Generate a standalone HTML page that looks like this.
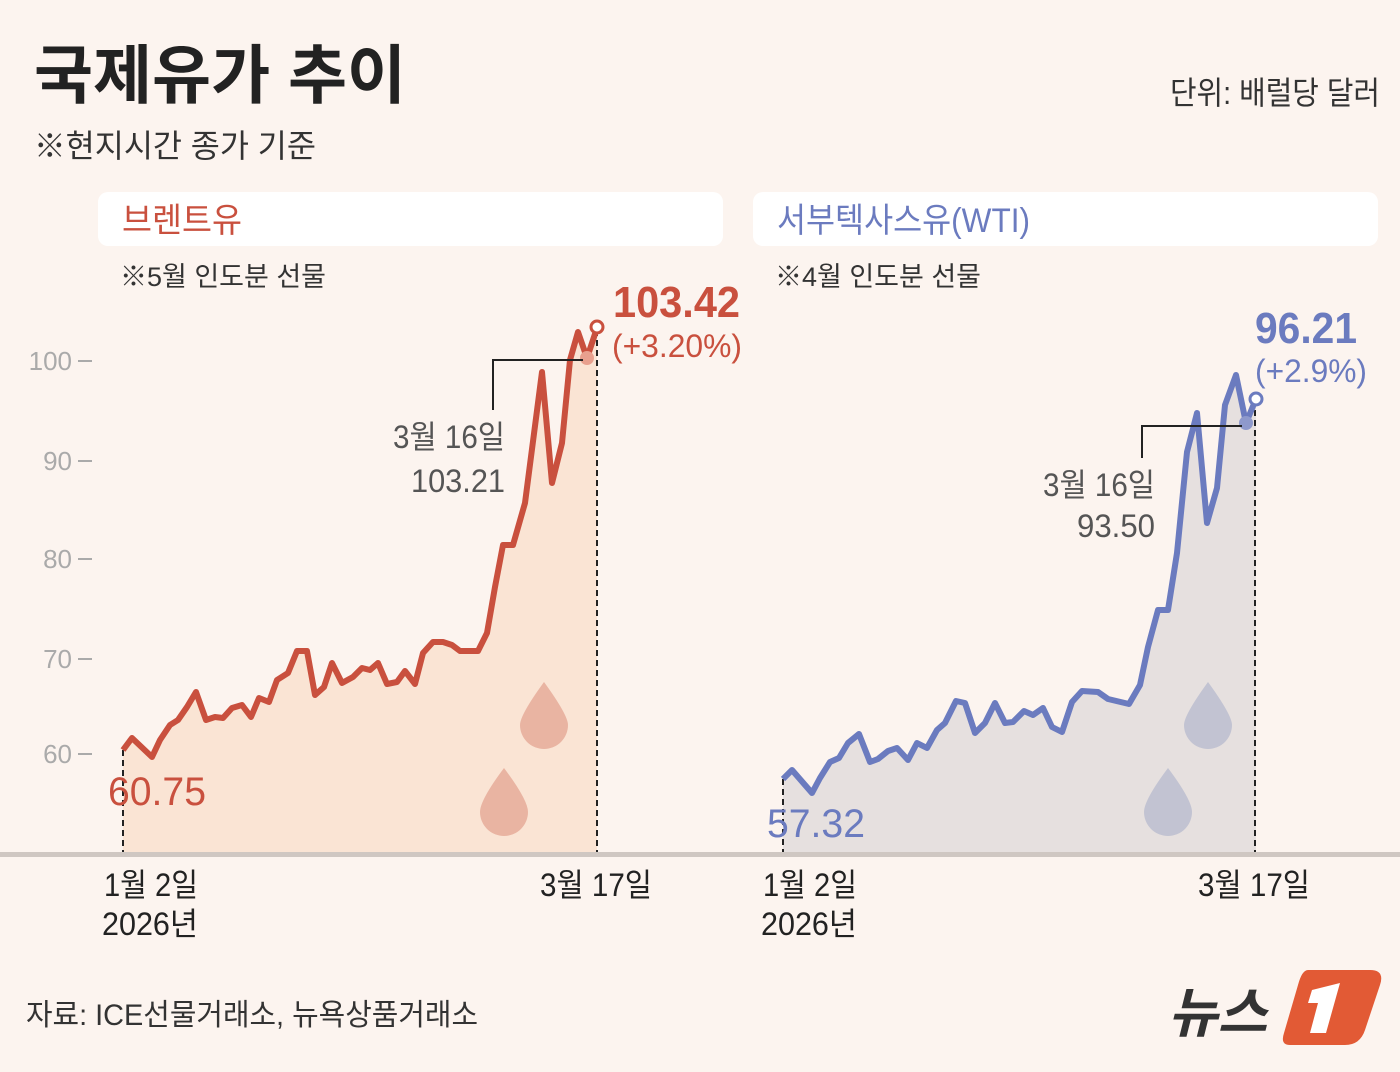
<!DOCTYPE html>
<html><head><meta charset="utf-8">
<style>
html,body{margin:0;padding:0;}
body{width:1400px;height:1072px;background:#fcf4ef;position:relative;overflow:hidden;font-family:"Liberation Sans","Noto Sans CJK KR",sans-serif;}
</style></head><body>
<svg width="1400" height="1072" style="position:absolute;left:0;top:0" font-family="Liberation Sans, Noto Sans CJK KR, sans-serif">
<rect x="98" y="192" width="625" height="54" rx="10" fill="#ffffff"/>
<rect x="753" y="192" width="625" height="54" rx="10" fill="#ffffff"/>
<text x="122" y="232" font-size="34" fill="#c9503e" textLength="120" lengthAdjust="spacingAndGlyphs">브렌트유</text>
<text x="777" y="232" font-size="34" fill="#6b7bbf" textLength="253" lengthAdjust="spacingAndGlyphs">서부텍사스유(WTI)</text>
<text x="120" y="286" font-size="27" fill="#333" textLength="206" lengthAdjust="spacingAndGlyphs">※5월 인도분 선물</text>
<text x="775" y="286" font-size="27" fill="#333" textLength="206" lengthAdjust="spacingAndGlyphs">※4월 인도분 선물</text>
<g font-size="26" fill="#aaa" text-anchor="end">
<text x="72" y="370">100</text><text x="72" y="470">90</text><text x="72" y="568">80</text><text x="72" y="668">70</text><text x="72" y="763">60</text>
</g>
<g stroke="#aaa" stroke-width="2"><line x1="78" y1="361" x2="92" y2="361"/><line x1="78" y1="461" x2="92" y2="461"/><line x1="78" y1="559" x2="92" y2="559"/><line x1="78" y1="659" x2="92" y2="659"/><line x1="78" y1="754" x2="92" y2="754"/></g>
<polygon fill="#fae4d4" points="123,855 123,750 132,738 152,757 160,740 170,725 178,720 187,707 196,692 206,720 215,717 223,718 232,708 242,705 251,717 259,698 269,702 277,680 288,673 297,651 307,651 315,695 324,687 332,663 342,683 353,677 362,668 370,670 378,663 387,684 397,682 405,671 415,684 423,653 433,642 443,642 452,645 460,651 478,651 487,633 495,587 503,545 513,545 525,503 542,372 552,483 562,443 570,360 578,332 587,358 597,328 597,855"/>
<polygon fill="#e6e0df" points="783,855 783,779 792,770 812,793 820,778 830,762 839,758 848,743 859,734 870,762 878,759 888,751 897,748 908,760 917,743 927,748 937,730 945,723 956,701 965,703 975,733 985,723 995,703 1005,723 1013,722 1024,711 1033,715 1043,708 1052,727 1062,732 1072,702 1082,691 1098,692 1108,699 1129,704 1140,685 1148,647 1158,610 1168,610 1177,553 1187,452 1197,413 1207,523 1217,488 1225,405 1236,375 1246,423 1256,399 1256,855"/>
<path d="M544 682 Q520 715 520 725 A24 24 0 0 0 568 725 Q568 715 544 682Z" fill="#e9b4a2"/>
<path d="M504 768 Q480 800 480 812 A24 24 0 0 0 528 812 Q528 800 504 768Z" fill="#e9b4a2"/>
<path d="M1208 682 Q1184 715 1184 725 A24 24 0 0 0 1232 725 Q1232 715 1208 682Z" fill="#c2c3d2"/>
<path d="M1168 768 Q1144 800 1144 812 A24 24 0 0 0 1192 812 Q1192 800 1168 768Z" fill="#c2c3d2"/>
<g stroke="#222" stroke-width="2" stroke-dasharray="6,4"><line x1="123" y1="750" x2="123" y2="855"/><line x1="597" y1="330" x2="597" y2="855"/><line x1="783" y1="779" x2="783" y2="855"/><line x1="1255" y1="400" x2="1255" y2="855"/></g>
<polyline fill="none" stroke="#c9503e" stroke-width="6" stroke-linejoin="round" points="123,750 132,738 152,757 160,740 170,725 178,720 187,707 196,692 206,720 215,717 223,718 232,708 242,705 251,717 259,698 269,702 277,680 288,673 297,651 307,651 315,695 324,687 332,663 342,683 353,677 362,668 370,670 378,663 387,684 397,682 405,671 415,684 423,653 433,642 443,642 452,645 460,651 478,651 487,633 495,587 503,545 513,545 525,503 542,372 552,483 562,443 570,360 578,332 587,358 597,328"/>
<polyline fill="none" stroke="#6b7bbf" stroke-width="6" stroke-linejoin="round" points="783,779 792,770 812,793 820,778 830,762 839,758 848,743 859,734 870,762 878,759 888,751 897,748 908,760 917,743 927,748 937,730 945,723 956,701 965,703 975,733 985,723 995,703 1005,723 1013,722 1024,711 1033,715 1043,708 1052,727 1062,732 1072,702 1082,691 1098,692 1108,699 1129,704 1140,685 1148,647 1158,610 1168,610 1177,553 1187,452 1197,413 1207,523 1217,488 1225,405 1236,375 1246,423 1256,399"/>
<circle cx="587" cy="358" r="7" fill="#e8a08e"/><circle cx="1246" cy="423" r="7" fill="#8e99cc"/>
<circle cx="597" cy="327" r="6" fill="#fff" stroke="#c9503e" stroke-width="3"/>
<circle cx="1256" cy="399" r="6" fill="#fff" stroke="#6b7bbf" stroke-width="3"/>
<polyline fill="none" stroke="#222" stroke-width="2" points="493,410 493,360 583,360"/>
<polyline fill="none" stroke="#222" stroke-width="2" points="1142,458 1142,426 1242,426"/>
<text x="505" y="448" font-size="32" fill="#555" text-anchor="end" textLength="112" lengthAdjust="spacingAndGlyphs">3월 16일</text>
<text x="505" y="492" font-size="32" fill="#555" text-anchor="end" textLength="94" lengthAdjust="spacingAndGlyphs">103.21</text>
<text x="1155" y="496" font-size="32" fill="#555" text-anchor="end" textLength="112" lengthAdjust="spacingAndGlyphs">3월 16일</text>
<text x="1155" y="537" font-size="32" fill="#555" text-anchor="end" textLength="78" lengthAdjust="spacingAndGlyphs">93.50</text>
<text x="613" y="317" font-size="44" font-weight="bold" fill="#c9503e" textLength="127" lengthAdjust="spacingAndGlyphs">103.42</text>
<text x="612" y="357" font-size="32" fill="#c9503e" textLength="130" lengthAdjust="spacingAndGlyphs">(+3.20%)</text>
<text x="1255" y="343" font-size="44" font-weight="bold" fill="#6b7bbf" textLength="102" lengthAdjust="spacingAndGlyphs">96.21</text>
<text x="1255" y="382" font-size="32" fill="#6b7bbf" textLength="112" lengthAdjust="spacingAndGlyphs">(+2.9%)</text>
<text x="108" y="805" font-size="40" fill="#c9503e" textLength="98" lengthAdjust="spacingAndGlyphs">60.75</text>
<text x="767" y="837" font-size="40" fill="#6b7bbf" textLength="98" lengthAdjust="spacingAndGlyphs">57.32</text>
<rect x="0" y="852" width="1400" height="5" fill="#cfc7c2"/>
<g font-size="32" fill="#222">
<text x="104" y="896" textLength="94" lengthAdjust="spacingAndGlyphs">1월 2일</text><text x="102" y="935" textLength="96" lengthAdjust="spacingAndGlyphs">2026년</text>
<text x="540" y="896" textLength="112" lengthAdjust="spacingAndGlyphs">3월 17일</text>
<text x="763" y="896" textLength="94" lengthAdjust="spacingAndGlyphs">1월 2일</text><text x="761" y="935" textLength="96" lengthAdjust="spacingAndGlyphs">2026년</text>
<text x="1198" y="896" textLength="112" lengthAdjust="spacingAndGlyphs">3월 17일</text>
</g>
<text x="34" y="98" font-size="64" font-weight="bold" fill="#222" textLength="372" lengthAdjust="spacingAndGlyphs">국제유가 추이</text>
<text x="34" y="157" font-size="32" fill="#333" textLength="282" lengthAdjust="spacingAndGlyphs">※현지시간 종가 기준</text>
<text x="1380" y="104" font-size="32" fill="#333" text-anchor="end" textLength="210" lengthAdjust="spacingAndGlyphs">단위: 배럴당 달러</text>
<text x="26" y="1025" font-size="30" fill="#333" textLength="452" lengthAdjust="spacingAndGlyphs">자료: ICE선물거래소, 뉴욕상품거래소</text>
<text x="1168" y="1032" font-size="54" font-weight="bold" fill="#333" font-style="italic">뉴스</text>
<path d="M1308 970 L1370 970 Q1385 970 1380 985 L1365 1030 Q1360 1045 1345 1045 L1290 1045 Q1280 1045 1284 1033 L1298 985 Q1302 970 1308 970Z" fill="#e25a35"/>
<path d="M1312 990 L1340 983 L1326 1033 L1310 1033 L1318 1003 L1308 1003Z" fill="#fff"/>
</svg>
</body></html>
